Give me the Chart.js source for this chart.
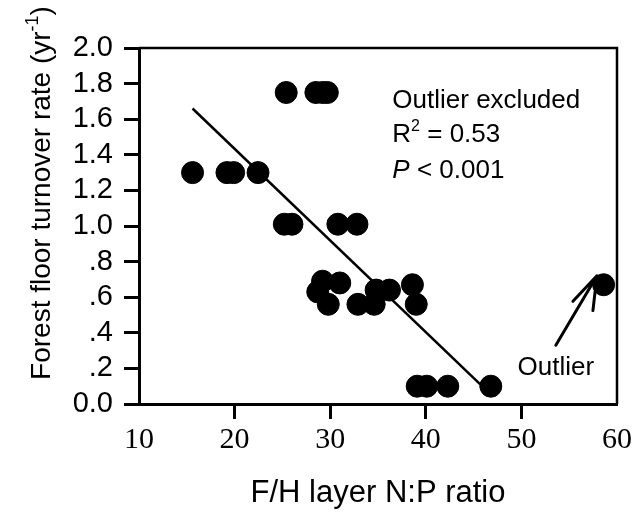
<!DOCTYPE html>
<html>
<head>
<meta charset="utf-8">
<script src="https://cdn.jsdelivr.net/npm/chart.js@4"></script>
<style>
  html, body { margin: 0; padding: 0; background: #fff; }
  #wrap { width: 635px; height: 518px; }
</style>
</head>
<body>
<div id="wrap"><canvas id="chart" width="635" height="518"></canvas></div>
<script>
// F/H layer N:P ratio vs forest floor turnover rate
const npRatio  = [25.4, 28.5, 29.2, 29.7,
                  15.6, 19.2, 19.9, 22.45,
                  25.2, 26.0, 30.8, 32.8,
                  28.7, 29.2, 29.8, 31.0, 32.9, 34.6, 34.8, 36.2, 38.6, 39.0,
                  39.1, 40.1, 42.3, 46.8];
const turnover = [1.75, 1.75, 1.75, 1.75,
                  1.30, 1.30, 1.30, 1.30,
                  1.01, 1.01, 1.01, 1.01,
                  0.63, 0.69, 0.56, 0.68, 0.56, 0.56, 0.64, 0.64, 0.67, 0.56,
                  0.10, 0.10, 0.10, 0.10];
const outlierX = [58.6];
const outlierY = [0.67];
const fitX = [15.6, 45.7];
const fitY = [1.66, 0.11];

const xTickValues = [10, 20, 30, 40, 50, 60];
const yTickValues = [0, 0.2, 0.4, 0.6, 0.8, 1.0, 1.2, 1.4, 1.6, 1.8, 2.0];
const yTickLabels = ['0.0', '.2', '.4', '.6', '.8', '1.0', '1.2', '1.4', '1.6', '1.8', '2.0'];

const sans = "'Liberation Sans', Arial, sans-serif";
const serif = "'Liberation Serif', 'Times New Roman', serif";

// frame, y title and the text notes
const extras = {
    id: 'extras',
    afterDraw(chart) {
        const ctx = chart.ctx;
        const a = chart.chartArea;
        const xs = chart.scales.x, ys = chart.scales.y;
        ctx.save();
        ctx.strokeStyle = '#000';
        ctx.lineWidth = 2.5;
        ctx.beginPath();
        ctx.moveTo(a.left, a.top);
        ctx.lineTo(a.right, a.top);
        ctx.lineTo(a.right, a.bottom);
        ctx.stroke();

        // y axis title with superscript
        ctx.fillStyle = '#000';
        ctx.translate(50, 193);
        ctx.rotate(-Math.PI / 2);
        ctx.textBaseline = 'alphabetic';
        const main = 'Forest floor turnover rate (yr';
        ctx.font = '28px ' + sans;
        const w1 = ctx.measureText(main).width;
        ctx.font = '18px ' + sans;
        const w2 = ctx.measureText('-1').width;
        ctx.font = '28px ' + sans;
        const w3 = ctx.measureText(')').width;
        let x0 = -(w1 + w2 + w3) / 2;
        ctx.fillText(main, x0, 0);
        ctx.font = '18px ' + sans;
        ctx.fillText('-1', x0 + w1, -12);
        ctx.font = '28px ' + sans;
        ctx.fillText(')', x0 + w1 + w2, 0);
        ctx.restore();

        // stats text
        ctx.save();
        ctx.fillStyle = '#000';
        ctx.textBaseline = 'alphabetic';
        const tx = xs.getPixelForValue(36.5);
        ctx.font = '26px ' + sans;
        ctx.fillText('Outlier excluded', tx, ys.getPixelForValue(1.663));
        let by = ys.getPixelForValue(1.47);
        ctx.fillText('R', tx, by);
        let rw = ctx.measureText('R').width;
        ctx.font = '16px ' + sans;
        ctx.fillText('2', tx + rw, by - 11);
        let sw = ctx.measureText('2').width;
        ctx.font = '26px ' + sans;
        ctx.fillText(' = 0.53', tx + rw + sw, by);
        by = ys.getPixelForValue(1.27);
        ctx.font = 'italic 26px ' + sans;
        ctx.fillText('P', tx, by);
        const pw = ctx.measureText('P').width;
        ctx.font = '26px ' + sans;
        ctx.fillText(' < 0.001', tx + pw, by);

        ctx.fillText('Outlier', xs.getPixelForValue(49.6), ys.getPixelForValue(0.165));

        // arrow to the outlier
        const x1 = xs.getPixelForValue(53.6), y1 = ys.getPixelForValue(0.33);
        const x2 = xs.getPixelForValue(57.9), y2 = ys.getPixelForValue(0.72);
        ctx.strokeStyle = '#000';
        ctx.lineWidth = 3;
        ctx.lineCap = 'round';
        ctx.beginPath();
        ctx.moveTo(x1, y1);
        ctx.lineTo(x2, y2);
        const ang = Math.atan2(y1 - y2, x1 - x2);
        [-0.42, 0.22].forEach(d => {
            ctx.moveTo(x2, y2);
            ctx.lineTo(x2 + 35 * Math.cos(ang + d), y2 + 35 * Math.sin(ang + d));
        });
        ctx.stroke();
        ctx.restore();
    }
};

const ctx = document.getElementById('chart').getContext('2d');
new Chart(ctx, {
    type: 'scatter',
    data: {
        datasets: [
            {
                label: 'Fit',
                type: 'line',
                data: fitX.map((x, i) => ({ x: x, y: fitY[i] })),
                borderColor: '#000',
                borderWidth: 2.5,
                pointRadius: 0,
                fill: false
            },
            {
                label: 'Sites',
                data: npRatio.map((x, i) => ({ x: x, y: turnover[i] })),
                backgroundColor: '#000',
                borderColor: '#000',
                pointRadius: 11,
                pointHoverRadius: 11
            },
            {
                label: 'Outlier',
                data: outlierX.map((x, i) => ({ x: x, y: outlierY[i] })),
                backgroundColor: '#000',
                borderColor: '#000',
                pointRadius: 11,
                pointHoverRadius: 11
            }
        ]
    },
    options: {
        responsive: false,
        animation: false,
        layout: { padding: { left: 0, top: 48, right: 17, bottom: 0 } },
        plugins: {
            legend: { display: false },
            tooltip: { enabled: false }
        },
        scales: {
            x: {
                type: 'linear',
                min: 10,
                max: 60,
                afterBuildTicks: s => { s.ticks = xTickValues.map(v => ({ value: v })); },
                afterFit: s => { s.height = 114; },
                border: { display: true, color: '#000', width: 3 },
                grid: {
                    drawOnChartArea: false,
                    drawTicks: true,
                    tickLength: 15,
                    tickWidth: 3,
                    tickColor: c => (c.tick && (c.tick.value === 10 || c.tick.value === 60)) ? 'rgba(0,0,0,0)' : '#000'
                },
                ticks: {
                    color: '#000',
                    padding: 3,
                    autoSkip: false,
                    maxRotation: 0,
                    font: { family: serif, size: 30 }
                },
                title: {
                    display: true,
                    text: 'F/H layer N:P ratio',
                    color: '#000',
                    font: { family: sans, size: 31 },
                    padding: { top: 0, bottom: 6 }
                }
            },
            y: {
                type: 'linear',
                min: 0,
                max: 2,
                afterBuildTicks: s => { s.ticks = yTickValues.map(v => ({ value: v })); },
                afterFit: s => { s.width = 139; },
                border: { display: true, color: '#000', width: 3 },
                grid: {
                    drawOnChartArea: false,
                    drawTicks: true,
                    tickLength: 15,
                    tickWidth: 3,
                    tickColor: '#000'
                },
                ticks: {
                    color: '#000',
                    padding: 11,
                    autoSkip: false,
                    font: { family: sans, size: 29 },
                    callback: (v) => {
                        const i = yTickValues.findIndex(t => Math.abs(t - v) < 1e-6);
                        return i >= 0 ? yTickLabels[i] : '';
                    }
                }
            }
        }
    },
    plugins: [extras]
});
</script>
</body>
</html>
